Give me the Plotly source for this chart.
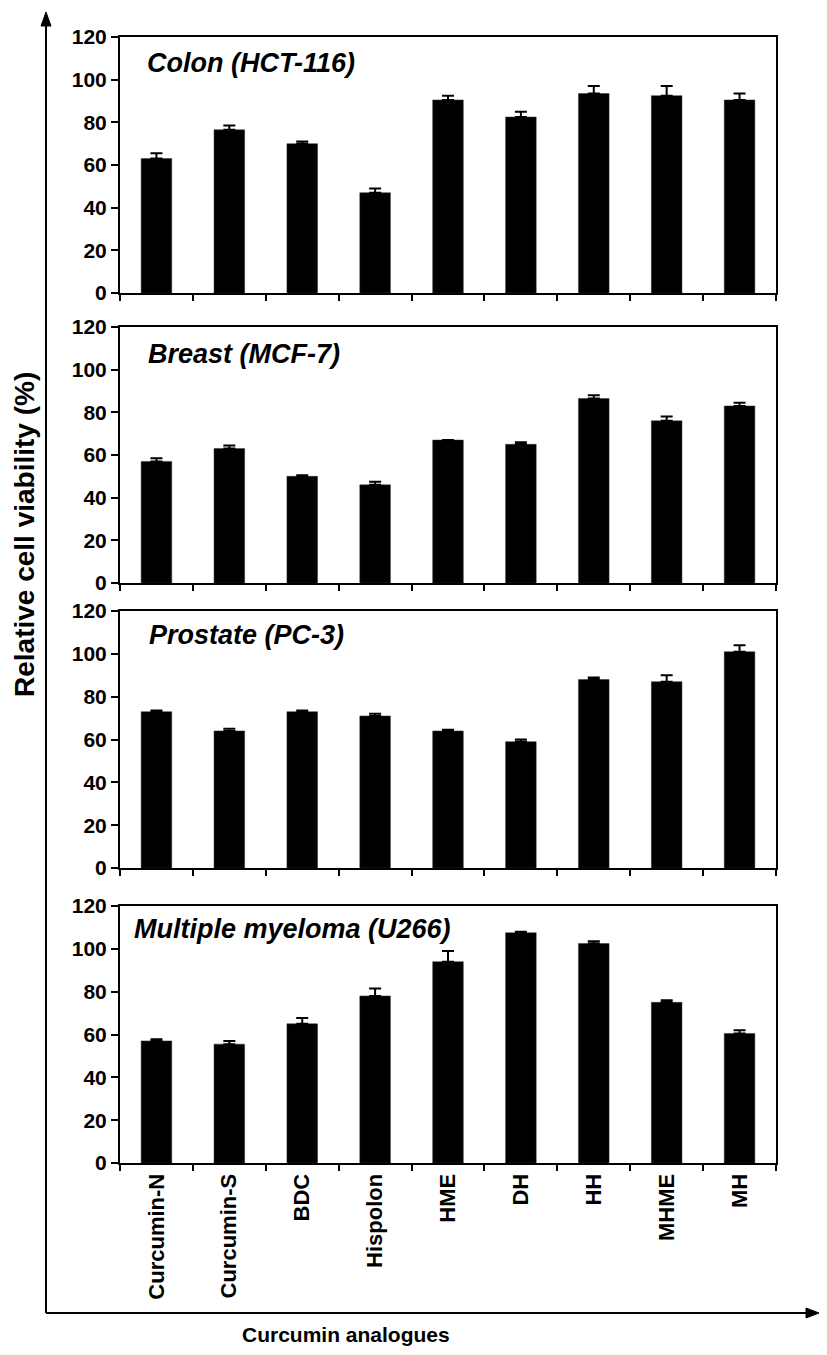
import plotly.graph_objects as go

# Page body has an 8px default margin, so the figure is sized to fit the window.
OFF = 8
PAGE_W, PAGE_H = 827, 1355
W, H = PAGE_W - 2 * OFF, PAGE_H - 2 * OFF

categories = ["Curcumin-N", "Curcumin-S", "BDC", "Hispolon", "HME", "DH", "HH", "MHME", "MH"]

panel_titles = ["Colon (HCT-116)", "Breast (MCF-7)", "Prostate (PC-3)", "Multiple myeloma (U266)"]

colon_values = [63, 76.5, 70, 47, 90.5, 82.5, 93.5, 92.5, 90.5]
colon_errors = [2.5, 2, 1, 2, 2, 2.5, 3.5, 4.5, 3]

breast_values = [57, 63, 50, 46, 67, 65, 86.5, 76, 83]
breast_errors = [1.5, 1.5, 0.5, 1.5, 0, 1, 1.5, 2, 1.5]

prostate_values = [73, 64, 73, 71, 64, 59, 88, 87, 101]
prostate_errors = [0.5, 1, 0.5, 1, 0.5, 1, 1, 3, 3]

myeloma_values = [57, 55.5, 65, 78, 94, 107.5, 102.5, 75, 60.5]
myeloma_errors = [0.8, 1.5, 2.7, 3.5, 5, 0.5, 1, 1, 1.5]

y_ticks = [0, 20, 40, 60, 80, 100, 120]
y_axis_title = "Relative cell viability (%)"
x_axis_title = "Curcumin analogues"

series = [
    (colon_values, colon_errors),
    (breast_values, breast_errors),
    (prostate_values, prostate_errors),
    (myeloma_values, myeloma_errors),
]


def px_x(p):
    return (p - OFF) / W


def px_y(p):
    return 1 - (p - OFF) / H


FONT = "Liberation Sans, Arial, sans-serif"

tops = [37, 327, 611, 906]
bottoms = [293, 583, 868, 1163]
title_pos = [(145, 63), (146, 354), (147, 635), (132, 929)]
x_left, x_right = 120, 776

fig = go.Figure()
layout = dict(
    width=W, height=H,
    margin=dict(l=0, r=0, t=0, b=0),
    paper_bgcolor="white", plot_bgcolor="white",
    showlegend=False,
    bargap=0.58,
    template="none",
    font=dict(family=FONT, color="black"),
)

annotations = []
for i, (vals, errs) in enumerate(series):
    n = "" if i == 0 else str(i + 1)
    fig.add_trace(go.Bar(
        x=categories, y=vals,
        marker=dict(color="black", line=dict(color="#333", width=0.5)),
        error_y=dict(type="data", array=errs, arrayminus=[0] * len(errs), symmetric=False,
                     color="black", thickness=2, width=6),
        xaxis="x" + n, yaxis="y" + n,
    ))
    last = i == 3
    layout["xaxis" + n] = dict(
        domain=[px_x(x_left), px_x(x_right)],
        anchor="y" + n,
        type="category",
        tickson="boundaries",
        ticks="outside", ticklen=6, tickwidth=2, tickcolor="black",
        showline=True, linewidth=2, linecolor="black", mirror=True,
        showgrid=False, zeroline=False,
        showticklabels=last,
        tickangle=-90,
        tickfont=dict(family=FONT, size=22, color="black", weight="bold"),
        automargin=False,
    )
    layout["yaxis" + n] = dict(
        domain=[px_y(bottoms[i]), px_y(tops[i])],
        anchor="x" + n,
        range=[0, 120],
        tickvals=y_ticks,
        ticks="outside", ticklen=7, tickwidth=2, tickcolor="black",
        showline=True, linewidth=2, linecolor="black", mirror=True,
        showgrid=False, zeroline=False,
        tickfont=dict(family=FONT, size=21, color="black", weight="bold"),
        automargin=False,
    )
    tx, ty = title_pos[i]
    annotations.append(dict(
        text=panel_titles[i], xref="paper", yref="paper",
        x=px_x(tx), y=px_y(ty), xanchor="left", yanchor="middle",
        showarrow=False,
        font=dict(family=FONT, size=27, color="black", weight="bold", style="italic"),
    ))

annotations.append(dict(
    text=y_axis_title, xref="paper", yref="paper",
    x=px_x(25), y=px_y(535), xanchor="center", yanchor="middle",
    textangle=-90, showarrow=False,
    font=dict(family=FONT, size=28, color="black", weight="bold"),
))
annotations.append(dict(
    text=x_axis_title, xref="paper", yref="paper",
    x=px_x(346), y=0, xanchor="center", yanchor="bottom",
    showarrow=False, borderpad=0,
    font=dict(family=FONT, size=21, color="black", weight="bold"),
))

# Axis arrows (layout decoration)
ax_x, ax_y = 46, 1313
shapes = [
    dict(type="line", xref="paper", yref="paper",
         x0=px_x(ax_x), x1=px_x(ax_x), y0=px_y(ax_y), y1=px_y(22),
         line=dict(color="black", width=2)),
    dict(type="line", xref="paper", yref="paper",
         x0=px_x(ax_x), x1=px_x(812), y0=px_y(ax_y), y1=px_y(ax_y),
         line=dict(color="black", width=2)),
    dict(type="path", xref="paper", yref="paper",
         path=f"M {px_x(ax_x)} {px_y(12)} L {px_x(ax_x-5)} {px_y(26)} L {px_x(ax_x+5)} {px_y(26)} Z",
         fillcolor="black", line=dict(color="black", width=1)),
    dict(type="path", xref="paper", yref="paper",
         path=f"M {px_x(819)} {px_y(ax_y)} L {px_x(806)} {px_y(ax_y-5)} L {px_x(806)} {px_y(ax_y+5)} Z",
         fillcolor="black", line=dict(color="black", width=1)),
]

layout["annotations"] = annotations
layout["shapes"] = shapes
fig.update_layout(**layout)

fig.write_html("out.html")
